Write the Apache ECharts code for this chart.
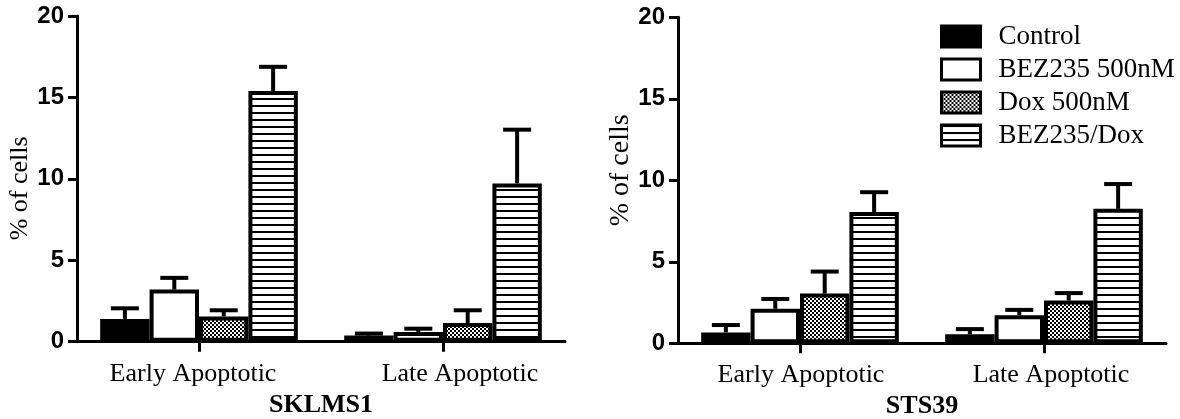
<!DOCTYPE html>
<html>
<head>
<meta charset="utf-8">
<script src="https://cdn.jsdelivr.net/npm/echarts@6/dist/echarts.min.js"></script>
<style>
html,body{margin:0;padding:0;background:#fff;}
#chart{width:1180px;height:419px;}
</style>
</head>
<body>
<div id="chart"></div>
<script>
// ---- data ----
const categories = ['Early Apoptotic', 'Late Apoptotic'];
const treatments = ['Control', 'BEZ235 500nM', 'Dox 500nM', 'BEZ235/Dox'];
const panelTitles = ['SKLMS1', 'STS39'];
const yTicks = [0, 5, 10, 15, 20];

// means per treatment: [Early, Late]
const sklms1Means = [[1.40, 0.38], [3.20, 0.60], [1.55, 1.15], [15.40, 9.72]];
const sklms1Errors = [[0.65, 0.12], [0.72, 0.20], [0.38, 0.78], [1.48, 3.30]];
const sts39Means = [[0.67, 0.55], [2.12, 1.72], [3.05, 2.62], [8.05, 8.25]];
const sts39Errors = [[0.45, 0.32], [0.60, 0.33], [1.35, 0.46], [1.22, 1.52]];

// ---- styles ----
function checkerPattern() {
  const c = document.createElement('canvas');
  c.width = 4; c.height = 4;
  const g = c.getContext('2d');
  g.fillStyle = '#fff'; g.fillRect(0, 0, 4, 4);
  g.fillStyle = '#000'; g.fillRect(0, 0, 2, 2); g.fillRect(2, 2, 2, 2);
  return { image: c, repeat: 'repeat' };
}
function stripePattern() {
  const c = document.createElement('canvas');
  c.width = 4; c.height = 7;
  const g = c.getContext('2d');
  g.fillStyle = '#fff'; g.fillRect(0, 0, 4, 7);
  g.fillStyle = '#000'; g.fillRect(0, 0, 4, 2);
  return { image: c, repeat: 'repeat' };
}
const fills = ['#000', '#fff', checkerPattern(), stripePattern()];
const SERIF = "'Liberation Serif', 'Times New Roman', serif";
const SANS = "'Liberation Sans', Arial, sans-serif";
const catGapRatio = 0.19;

const grids = [
  { left: 77, top: 16, width: 488, height: 325.7, containLabel: false, outerBoundsMode: 'none' },
  { left: 678, top: 17.3, width: 488, height: 326, containLabel: false, outerBoundsMode: 'none' }
];
const yNamePad = [[0, 19, 0, 0], [0, 0, 0, 20]];
const yNameSize = [26, 28];
const titleGap = [51, 49];
// horizontal nudges of category labels (px), per panel
const labelShift = [[-6, 17], [1, 7]];

const xAxes = [], yAxes = [], series = [];
[0, 1].forEach(k => {
  const rich = {};
  labelShift[k].forEach((d, j) => {
    rich['c' + j] = {
      fontFamily: SERIF, fontSize: 26, color: '#000',
      padding: d >= 0 ? [0, 0, 0, 2 * d] : [0, -2 * d, 0, 0]
    };
  });
  xAxes.push({
    type: 'category', gridIndex: k, data: categories,
    name: panelTitles[k], nameLocation: 'middle', nameGap: titleGap[k],
    nameTextStyle: { fontFamily: SERIF, fontWeight: 'bold', fontSize: 26, color: '#000' },
    axisLine: { lineStyle: { color: '#000', width: 3 } },
    axisTick: { show: true, alignWithLabel: true, interval: 0, length: 10, lineStyle: { color: '#000', width: 3 } },
    axisLabel: {
      interval: 0, hideOverlap: false,
      fontFamily: SERIF, fontSize: 26, color: '#000', margin: 19,
      formatter: (v, idx) => '{c' + idx + '|' + v + '}', rich: rich
    },
    splitLine: { show: false }
  });
  yAxes.push({
    type: 'value', gridIndex: k, min: 0, max: 20, interval: 5,
    name: '% of cells', nameLocation: 'middle', nameGap: 43,
    nameTextStyle: { fontFamily: SERIF, fontSize: yNameSize[k], color: '#000', padding: yNamePad[k] },
    axisLine: { show: true, lineStyle: { color: '#000', width: 3 } },
    axisTick: { show: true, length: 9, lineStyle: { color: '#000', width: 3 } },
    axisLabel: { fontFamily: SANS, fontWeight: 'bold', fontSize: 24, color: '#000', margin: 13,
      formatter: v => yTicks.indexOf(v) >= 0 ? String(v) : '' },
    splitLine: { show: false }
  });
  const means = k === 0 ? sklms1Means : sts39Means;
  const errs = k === 0 ? sklms1Errors : sts39Errors;
  treatments.forEach((t, i) => {
    series.push({
      type: 'bar', name: t, xAxisIndex: k, yAxisIndex: k,
      data: means[i], barGap: '0%', barCategoryGap: (catGapRatio * 100) + '%',
      itemStyle: { color: fills[i], borderColor: '#000', borderWidth: 4 },
      emphasis: { disabled: true }, animation: false, z: 2
    });
  });
  const errData = [];
  treatments.forEach((t, i) => {
    categories.forEach((c, j) => errData.push([j, means[i][j], errs[i][j], i]));
  });
  series.push({
    type: 'custom', xAxisIndex: k, yAxisIndex: k, data: errData,
    encode: { x: 0, y: 1 }, animation: false, z: 3, silent: true,
    renderItem: function (params, api) {
      const cat = api.value(0), v = api.value(1), e = api.value(2), s = api.value(3);
      const band = api.size([1, 0])[0];
      const groupW = band * (1 - catGapRatio);
      const bw = groupW / treatments.length;
      const base = api.coord([cat, v]);
      const x = base[0] - groupW / 2 + bw * (s + 0.5);
      const top = api.coord([cat, v + e])[1];
      const capHalf = 14;
      const st = { stroke: '#000', lineWidth: 4 };
      return {
        type: 'group', children: [
          { type: 'line', shape: { x1: x, y1: base[1], x2: x, y2: top }, style: st },
          { type: 'line', shape: { x1: x - capHalf, y1: top, x2: x + capHalf, y2: top }, style: st }
        ]
      };
    }
  });
});

const chart = echarts.init(document.getElementById('chart'), null, { renderer: 'canvas' });
chart.setOption({
  backgroundColor: '#fff',
  animation: false,
  grid: grids,
  xAxis: xAxes,
  yAxis: yAxes,
  legend: {
    data: treatments.map(t => ({ name: t, icon: 'rect' })),
    orient: 'vertical', left: 935, top: 18,
    itemWidth: 39, itemHeight: 21, itemGap: 6,
    selectedMode: false,
    itemStyle: { borderColor: '#000', borderWidth: 3 },
    textStyle: { fontFamily: SERIF, fontSize: 27, color: '#000', padding: [0, 0, 0, 13] }
  },
  graphic: [{
    type: 'text', left: 6, top: -19,
    style: { text: 'B.', fontFamily: SERIF, fontWeight: 'bold', fontSize: 24, fill: '#000' }
  }],
  series: series
});
</script>
</body>
</html>
